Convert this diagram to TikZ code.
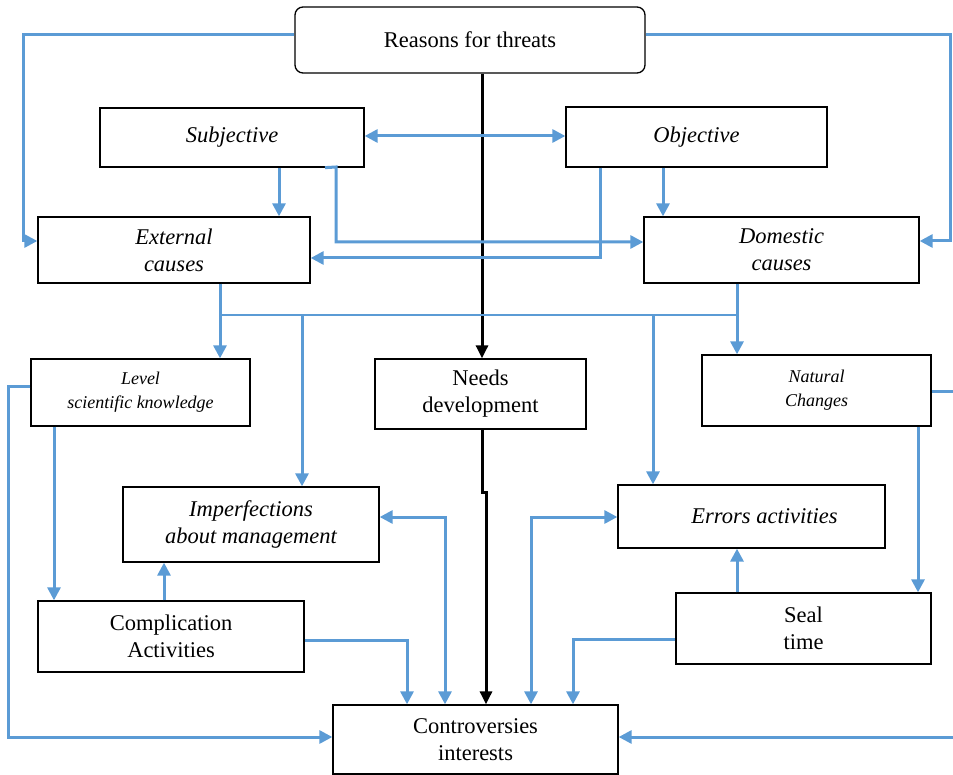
\documentclass[tikz,border=0pt]{standalone}
\usepackage{fontspec}
\setmainfont{Liberation Serif}
\usetikzlibrary{arrows.meta}
\definecolor{lblue}{RGB}{91,155,213}
\begin{document}
\begin{tikzpicture}[x=1pt,y=-1pt,
  box/.style={draw=black,line width=1.3pt,fill=white,inner sep=0pt,align=center,
    font=\fontsize{22.5}{27}\selectfont},
  smallbox/.style={box,font=\fontsize{18}{24}\selectfont},
  conn/.style={draw=lblue,line width=3pt,-{Triangle[length=13pt,width=13pt]}},
  dconn/.style={draw=lblue,line width=3pt,{Triangle[length=13pt,width=13pt]}-{Triangle[length=13pt,width=13pt]}},
  bus/.style={draw=lblue,line width=2pt},
  main/.style={draw=black,line width=3pt,-{Triangle[length=13pt,width=12pt]}}]
\useasboundingbox (0,0) rectangle (953,775);
% nodes
\node[box,rounded corners=8pt,minimum width=350pt,minimum height=66pt] (R) at (470,40) {Reasons for threats};
\node[box,minimum width=264pt,minimum height=59pt] (Sub) at (232,137.5) {\itshape Subjective};
\node[box,minimum width=261pt,minimum height=60pt] (Obj) at (696.5,137) {\itshape Objective};
\node[box,minimum width=272pt,minimum height=66pt] (Ext) at (174,250) {\itshape External\\\itshape causes};
\node[box,minimum width=275pt,minimum height=66pt] (Dom) at (781.5,250) {\itshape Domestic\\\itshape causes};
\node[smallbox,minimum width=219pt,minimum height=67pt] (Lev) at (140.5,392.5) {\itshape Level\\\itshape scientific knowledge};
\node[box,minimum width=211pt,minimum height=70pt] (Need) at (480.5,394) {Needs\\development};
\node[smallbox,minimum width=229pt,minimum height=71pt] (Nat) at (816.5,390.5) {\itshape Natural\\\itshape Changes};
\node[box,minimum width=256pt,minimum height=75pt] (Imp) at (251,524.5) {\itshape Imperfections\\\itshape about management};
\node[box,minimum width=267pt,minimum height=63pt] (Err) at (751.5,516.5) {\hspace*{26pt}\itshape Errors activities};
\node[box,minimum width=266pt,minimum height=71pt] (Comp) at (171,636.5) {Complication\\Activities};
\node[box,minimum width=255pt,minimum height=71pt] (Seal) at (803.5,628.5) {Seal\\time};
\node[box,minimum width=285pt,minimum height=69pt] (Con) at (475.5,739.5) {Controversies\\interests};
% connectors
\draw[conn] (R.west |- 0,35) -- (23,35) -- (23,241) -- (Ext.west |- 0,241);
\draw[conn] (R.east |- 0,35) -- (950,35) -- (950,241) -- (Dom.east |- 0,241);
\draw[main] (482,0 |- R.south) -- (482,0 |- Need.north);
\draw[main] (482,0 |- Need.south) -- (482,492) -- (486,492) -- (486,0 |- Con.north);
\draw[dconn] (Sub.east |- 0,136) -- (Obj.west |- 0,136);
\draw[conn] (279,0 |- Sub.south) -- (279,0 |- Ext.north);
\draw[conn] (325,0 |- Sub.south) -- (336,167) -- (336,242) -- (Dom.west |- 0,242);
\draw[conn] (600,0 |- Obj.south) -- (600,258) -- (Ext.east |- 0,258);
\draw[conn] (663,0 |- Obj.south) -- (663,0 |- Dom.north);
\draw[conn] (220,0 |- Ext.south) -- (220,0 |- Lev.north);
\draw[bus] (220,315) -- (737,315);
\draw[conn] (737,0 |- Dom.south) -- (737,0 |- Nat.north);
\draw[conn] (302,315) -- (302,0 |- Imp.north);
\draw[conn] (653,315) -- (653,0 |- Err.north);
\draw[conn] (Lev.west |- 0,387) -- (8,387) -- (8,737) -- (Con.west |- 0,737);
\draw[conn] (54,0 |- Lev.south) -- (54,0 |- Comp.north);
\draw[conn] (164,0 |- Comp.north) -- (164,0 |- Imp.south);
\draw[conn] (Comp.east |- 0,640) -- (407,640) -- (407,0 |- Con.north);
\draw[dconn] (Imp.east |- 0,517) -- (445,517) -- (445,0 |- Con.north);
\draw[dconn] (Err.west |- 0,517) -- (531,517) -- (531,0 |- Con.north);
\draw[conn] (Seal.west |- 0,639) -- (573,639) -- (573,0 |- Con.north);
\draw[conn] (737,0 |- Seal.north) -- (737,0 |- Err.south);
\draw[conn] (918,0 |- Nat.south) -- (918,0 |- Seal.north);
\draw[conn] (Nat.east |- 0,392) -- (962,392) -- (962,737) -- (Con.east |- 0,737);
\end{tikzpicture}
\end{document}
